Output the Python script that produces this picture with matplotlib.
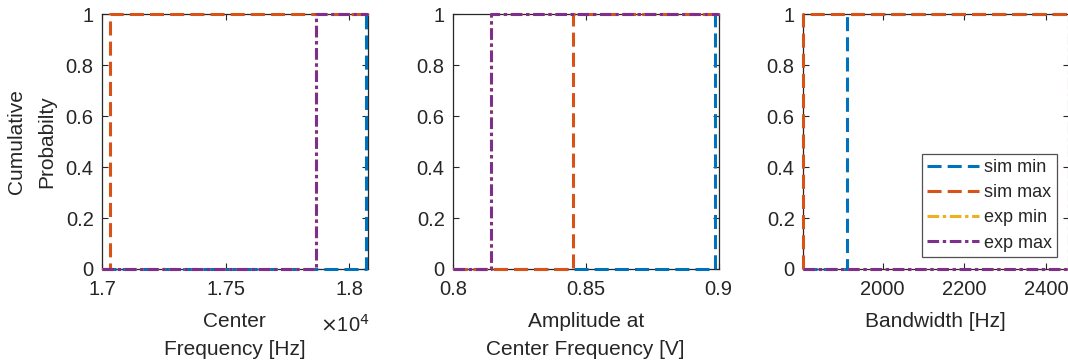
import numpy as np
import matplotlib
matplotlib.use("Agg")
import matplotlib.pyplot as plt

plt.rcParams['font.family'] = ['Liberation Sans', 'DejaVu Sans']

# ---- data ----
series_names = ["sim min", "sim max", "exp min", "exp max"]
series_colors = ["#0072BD", "#D95319", "#EDB120", "#7E2F8E"]
series_styles = [(0, (4.6, 2.0)), (0, (4.6, 2.0)), (0, (3.8, 1.2, 1.1, 1.2)), (0, (3.8, 1.2, 1.1, 1.2))]

center_freq = [1.8065e4, 1.7032e4, 1.7863e4, 1.7863e4]   # Hz
amplitude = [0.8985, 0.8453, 0.8143, 0.8143]              # V
bandwidth = [1912, 1805, 2456, 2456]                      # Hz

xlims = [(1.7e4, 1.8073e4), (0.8, 0.9), (1805, 2455)]
xticks = [[1.7e4, 1.75e4, 1.8e4], [0.8, 0.85, 0.9], [2000, 2200, 2400]]
xticklabels = [["1.7", "1.75", "1.8"], ["0.8", "0.85", "0.9"], ["2000", "2200", "2400"]]
xlabels = ["Center\nFrequency [Hz]", "Amplitude at\nCenter Frequency [V]", "Bandwidth [Hz]"]
yticks = [0, 0.2, 0.4, 0.6, 0.8, 1.0]
yticklabels = ["0", "0.2", "0.4", "0.6", "0.8", "1"]
datasets = [center_freq, amplitude, bandwidth]

fig = plt.figure(figsize=(10.68, 3.64), dpi=100)
W, H = 1068, 364
ax_left_px = [102, 453, 803]
ax_w_px = 265.5
ax_top_px, ax_bot_px = 14, 269
axc = "#262626"
fs = 14.5

axes = []
for i in range(3):
    ax = fig.add_axes([ax_left_px[i] / W, 1 - ax_bot_px / H, ax_w_px / W, (ax_bot_px - ax_top_px) / H])
    axes.append(ax)
    lo, hi = xlims[i]
    for v, c, ls, name in zip(datasets[i], series_colors, series_styles, series_names):
        xs = np.array([lo, v, v, max(hi, v)])
        ys = np.array([0, 0, 1, 1])
        ax.plot(xs, ys, color=c, linestyle=ls, linewidth=2.2, label=name,
                clip_on=False, zorder=3)
    ax.set_xlim(lo, hi)
    ax.set_ylim(0, 1)
    ax.set_xticks(xticks[i])
    ax.set_xticklabels(xticklabels[i])
    ax.set_yticks(yticks)
    ax.set_yticklabels(yticklabels)
    ax.tick_params(direction='in', length=4, width=0.8, colors=axc, labelsize=fs,
                   top=True, right=True)
    ax.tick_params(axis='x', pad=8)
    ax.tick_params(axis='y', pad=6)
    for sp in ax.spines.values():
        sp.set_color(axc)
        sp.set_linewidth(0.9)
    ax.set_xlabel(xlabels[i], fontsize=fs + 0.5, color=axc, linespacing=1.6, labelpad=9)

axes[0].set_ylabel("Cumulative\nProbabilty", fontsize=fs + 0.5, color=axc, linespacing=1.7, labelpad=7)
axes[0].text(0.82, -0.22, r"$\times$10$^{4}$", transform=axes[0].transAxes, fontsize=fs,
             color=axc, ha='left', va='center')

leg = axes[2].legend(loc='lower right', bbox_to_anchor=(0.958, 0.047), fontsize=13,
                     frameon=True, fancybox=False, handlelength=2.9, handletextpad=0.25,
                     borderpad=0.3, labelspacing=0.45, borderaxespad=0)
leg.get_frame().set_edgecolor(axc)
leg.get_frame().set_linewidth(0.9)
leg.set_zorder(5)
for t in leg.get_texts():
    t.set_color(axc)

fig.savefig("out.png", dpi=100)
